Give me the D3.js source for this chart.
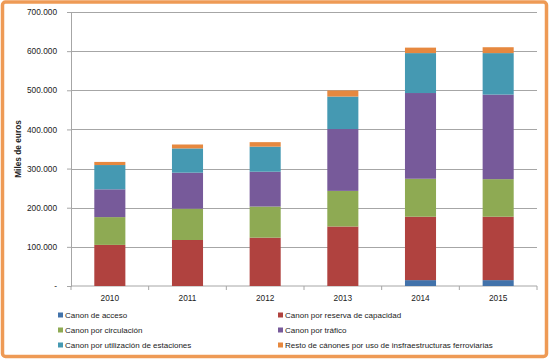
<!DOCTYPE html>
<html><head><meta charset="utf-8">
<script src="https://cdn.jsdelivr.net/npm/d3@7"></script>
<style>body{margin:0;background:#fff}svg{display:block}</style>
</head><body>
<script>
const years = ["2010","2011","2012","2013","2014","2015"];
const seriesNames = ["Canon de acceso","Canon por reserva de capacidad","Canon por circulación","Canon por tráfico","Canon por utilización de estaciones","Resto de cánones por uso de insfraestructuras ferroviarias"];
const acceso = [0,0,0,0,15000,15000];
const reserva = [105000,117500,123500,152000,162000,162000];
const circulacion = [71000,80000,79500,91000,97000,96000];
const trafico = [71000,92000,89000,158000,219000,216000];
const estaciones = [62000,62000,64000,83000,102000,106000];
const resto = [8000,10000,11500,15500,14000,15000];
const yTicks = [0,100000,200000,300000,400000,500000,600000,700000];
const colors = ["#4272AA","#B0423F","#8EAA53","#775A9A","#4599B2","#E6883F"];

(function(){
const W=549,H=359;
const svg=d3.select("body").append("svg").attr("width",W).attr("height",H);
svg.append("rect").attr("x",2.5).attr("y",2).attr("width",W-5).attr("height",H-4.5)
  .attr("rx",3).attr("fill","#fff").attr("stroke","#EE9A55").attr("stroke-width",3.5);

const pL=71,pR=537,pT=12,pB=286;
const x=d3.scaleBand().domain(years).range([pL,pR]).paddingInner(0.6).paddingOuter(0.3);
const y=d3.scaleLinear().domain([0,700000]).range([pB,pT]);
const font="'Liberation Sans', Arial, sans-serif";

svg.append("g").selectAll("line").data(yTicks.filter(d=>d>0)).join("line")
  .attr("x1",pL).attr("x2",pR).attr("y1",d=>Math.round(y(d))+0.5).attr("y2",d=>Math.round(y(d))+0.5)
  .attr("stroke","#A6A6A6").attr("stroke-width",1);

const fmt=d=>d===0?"-":d3.format(",")(d).replace(/,/g,".");
const yAxis=svg.append("g").attr("transform",`translate(${pL},0)`)
  .call(d3.axisLeft(y).tickValues(yTicks).tickFormat(fmt).tickSize(4).tickPadding(10));
yAxis.select(".domain").attr("stroke","#A6A6A6");
yAxis.selectAll(".tick line").attr("stroke","#A6A6A6");
yAxis.selectAll("text").attr("font-family",font).attr("font-size",8.3).attr("fill","#222");

const xb=svg.append("g").attr("transform",`translate(0,${pB})`);
xb.append("line").attr("x1",pL).attr("x2",pR).attr("stroke","#A6A6A6");
const bounds=d3.range(years.length+1).map(i=>pL+(pR-pL)/years.length*i);
xb.selectAll("line.t").data(bounds).join("line").attr("class","t")
  .attr("x1",d=>d).attr("x2",d=>d).attr("y1",0).attr("y2",4).attr("stroke","#A6A6A6");
xb.selectAll("text").data(years).join("text")
  .attr("x",d=>x(d)+x.bandwidth()/2).attr("y",15).attr("text-anchor","middle")
  .attr("font-family",font).attr("font-size",8.3).attr("fill","#222").text(d=>d);

const table=years.map((yr,i)=>({year:yr,s0:acceso[i],s1:reserva[i],s2:circulacion[i],s3:trafico[i],s4:estaciones[i],s5:resto[i]}));
const keys=["s0","s1","s2","s3","s4","s5"];
const stack=d3.stack().keys(keys)(table);
svg.append("g").selectAll("g").data(stack).join("g").attr("fill",(d,i)=>colors[i])
  .selectAll("rect").data(d=>d).join("rect")
  .attr("x",d=>x(d.data.year)).attr("width",x.bandwidth())
  .attr("y",d=>y(d[1])).attr("height",d=>y(d[0])-y(d[1]));

svg.append("text").attr("transform","translate(21,149) rotate(-90)").attr("text-anchor","middle")
  .attr("font-family",font).attr("font-size",8.3).attr("font-weight","bold").attr("fill","#222").text("Miles de euros");

const lx=[58,278], ly=[315,330,345];
const lg=svg.append("g").selectAll("g").data(seriesNames).join("g")
  .attr("transform",(d,i)=>`translate(${lx[i%2]},${ly[Math.floor(i/2)]})`);
lg.append("rect").attr("x",0).attr("y",-2.5).attr("width",5).attr("height",5).attr("fill",(d,i)=>colors[i]);
lg.append("text").attr("x",7).attr("y",3).attr("font-family",font).attr("font-size",8).attr("fill","#222").text(d=>d);
})();
</script>
</body></html>
